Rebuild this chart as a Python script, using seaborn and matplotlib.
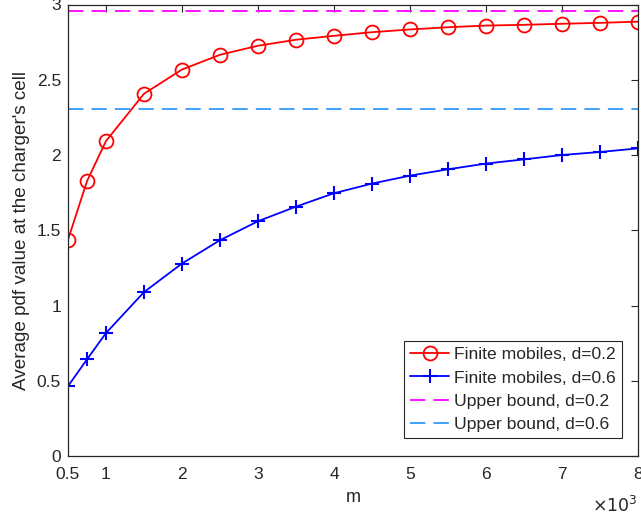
import matplotlib
matplotlib.use("Agg")
import matplotlib.pyplot as plt
import seaborn as sns
import pandas as pd
from matplotlib.ticker import FixedLocator, FuncFormatter

m_values = [500, 750, 1000, 1500, 2000, 2500, 3000, 3500, 4000, 4500,
            5000, 5500, 6000, 6500, 7000, 7500, 8000]
finite_d02 = [1.437, 1.826, 2.093, 2.407, 2.568, 2.666, 2.726, 2.766, 2.792,
              2.816, 2.834, 2.849, 2.860, 2.865, 2.872, 2.878, 2.886]
finite_d06 = [0.464, 0.642, 0.817, 1.089, 1.279, 1.434, 1.560, 1.657, 1.746,
              1.810, 1.863, 1.905, 1.943, 1.971, 2.000, 2.020, 2.044]
upper_d02 = 2.956
upper_d06 = 2.303
labels = ["Finite mobiles, d=0.2", "Finite mobiles, d=0.6",
          "Upper bound, d=0.2", "Upper bound, d=0.6"]
xtick_vals = [500, 1000, 2000, 3000, 4000, 5000, 6000, 7000, 8000]
ytick_vals = [0, 0.5, 1, 1.5, 2, 2.5, 3]

sns.set_style("white")
plt.rcParams['font.family'] = ['Liberation Sans', 'DejaVu Sans']

fig = plt.figure(figsize=(6.41, 5.16), dpi=100)
ax = fig.add_axes([68/641, 60/516, 570/641, 451.5/516])

df1 = pd.DataFrame({"m": m_values, "v": finite_d02})
df2 = pd.DataFrame({"m": m_values, "v": finite_d06})
sns.lineplot(data=df1, x="m", y="v", ax=ax, color="#ff0000", lw=1.3,
             marker="o", markersize=10, markerfacecolor="none",
             markeredgecolor="#ff0000", markeredgewidth=1.3, label=labels[0])
sns.lineplot(data=df2, x="m", y="v", ax=ax, color="#0000ff", lw=1.3,
             marker="+", markersize=10, markeredgewidth=1.5,
             markeredgecolor="#0000ff", label=labels[1])
ax.axhline(upper_d02, color="#ff00ff", lw=1.3, dashes=(8.5, 4.5), label=labels[2])
ax.axhline(upper_d06, color="#3399ff", lw=1.3, dashes=(8.5, 4.5), label=labels[3])

ax.set_xlim(500, 8000)
ax.set_ylim(0, 3)
ax.xaxis.set_major_locator(FixedLocator(xtick_vals))
ax.xaxis.set_major_formatter(FuncFormatter(lambda v, p: f"{v/1000:g}"))
ax.yaxis.set_major_locator(FixedLocator(ytick_vals))
ax.yaxis.set_major_formatter(FuncFormatter(lambda v, p: f"{v:g}"))

axcol = "#262626"
for s in ax.spines.values():
    s.set_visible(True)
    s.set_color(axcol)
    s.set_linewidth(0.9)
ax.tick_params(direction="in", length=5, width=0.8, colors=axcol,
               top=True, right=True, labelsize=12.5)
ax.tick_params(axis="x", pad=8)
ax.tick_params(axis="y", pad=5)
for lab in ax.get_xticklabels() + ax.get_yticklabels():
    lab.set_color(axcol)

ax.set_xlabel("m", fontsize=13, color=axcol, labelpad=5)
ax.set_ylabel("Average pdf value at the charger's cell", fontsize=13.6,
              color=axcol, labelpad=5)
ax.text(1.0, -0.108, r"$\times10^{3}$", transform=ax.transAxes, ha="right",
        va="center", fontsize=12.5, color=axcol)

leg = ax.legend(loc="lower right", bbox_to_anchor=(0.972, 0.04), fontsize=12.6,
                frameon=True, fancybox=False, edgecolor=axcol, framealpha=1,
                handlelength=2.2, handletextpad=0.3, borderpad=0.35,
                labelspacing=0.45, borderaxespad=0)
leg.get_frame().set_linewidth(0.8)

fig.savefig("out.png", dpi=100)
